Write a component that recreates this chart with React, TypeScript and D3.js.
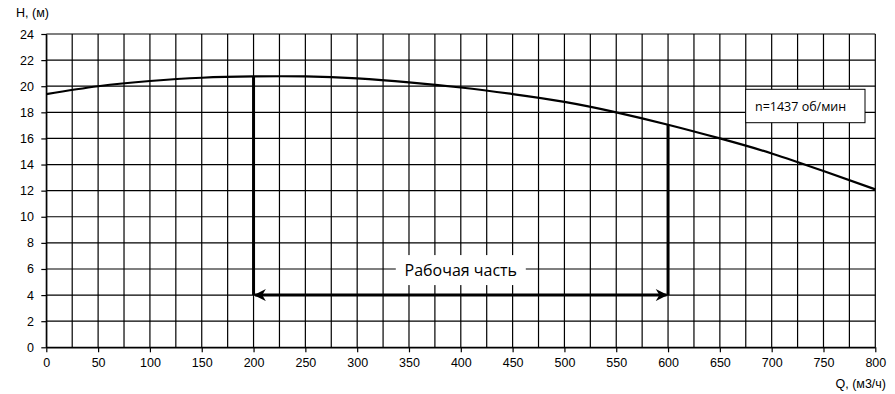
import React, { useEffect, useRef } from 'react';
import * as d3 from 'd3';

const flowQ = [0, 50, 100, 150, 200, 250, 300, 350, 400, 450, 500, 550, 600, 650, 700, 750, 800];
const headH = [19.4, 20.0, 20.4, 20.65, 20.75, 20.75, 20.6, 20.3, 19.9, 19.4, 18.8, 18.0, 17.05, 16.0, 14.85, 13.5, 12.1];
const xTicks = d3.range(0, 801, 50);
const yTicks = d3.range(0, 25, 2);
const workStart = 200;
const workEnd = 600;
const workLevel = 4;
const speedLabel = 'n=1437 об/мин';
const workLabel = 'Рабочая часть';

function App() {
  const svgRef = useRef<SVGSVGElement>(null);

  useEffect(() => {
    const svg = d3.select(svgRef.current);
    svg.selectAll('*').remove();

    const x = d3.scaleLinear().domain([0, 800]).range([46.3, 875.3]);
    const y = d3.scaleLinear().domain([0, 24]).range([347.3, 34]);
    const font = 'Arial, "Liberation Sans", sans-serif';

    // grid
    const grid = svg.append('g').attr('stroke', '#000').attr('stroke-width', 1.2);
    grid.selectAll('.vg')
      .data(d3.range(0, 801, 25))
      .join('line')
      .attr('x1', (d) => x(d)).attr('x2', (d) => x(d))
      .attr('y1', y(0)).attr('y2', y(24));
    grid.selectAll('.hg')
      .data(yTicks)
      .join('line')
      .attr('class', 'hg')
      .attr('x1', x(0)).attr('x2', x(800))
      .attr('y1', (d) => y(d)).attr('y2', (d) => y(d));

    // axes
    const xAxis = d3.axisBottom(x).tickValues(xTicks).tickSize(5).tickSizeOuter(0);
    const yAxis = d3.axisLeft(y).tickValues(yTicks).tickSize(5).tickSizeOuter(0);
    const gx = svg.append('g').attr('transform', `translate(0,${y(0)})`).call(xAxis);
    const gy = svg.append('g').attr('transform', `translate(${x(0)},0)`).call(yAxis);
    [gx, gy].forEach((g) => {
      g.select('.domain').attr('stroke', '#000').attr('stroke-width', 1.2);
      g.selectAll('.tick line').attr('stroke', '#000').attr('stroke-width', 1.2);
      g.selectAll('.tick text').attr('font-family', font).attr('font-size', 12.5).attr('fill', '#000');
    });
    gx.selectAll('.tick text').attr('dy', '0.95em');
    gy.selectAll('.tick text').attr('dx', '-0.35em');

    // curve
    const line = d3.line<number>()
      .x((d, i) => x(flowQ[i]))
      .y((d) => y(d))
      .curve(d3.curveNatural);
    svg.append('path')
      .datum(headH)
      .attr('d', line)
      .attr('fill', 'none')
      .attr('stroke', '#000')
      .attr('stroke-width', 2.2);

    const interp = (q: number) => {
      const i = d3.bisectLeft(flowQ, q);
      if (flowQ[i] === q) return headH[i];
      const t = (q - flowQ[i - 1]) / (flowQ[i] - flowQ[i - 1]);
      return headH[i - 1] + t * (headH[i] - headH[i - 1]);
    };

    // working range
    const work = svg.append('g').attr('stroke', '#000').attr('stroke-width', 3);
    [workStart, workEnd].forEach((q) => {
      work.append('line')
        .attr('x1', x(q)).attr('x2', x(q))
        .attr('y1', y(interp(q))).attr('y2', y(workLevel));
    });

    const defs = svg.append('defs');
    defs.append('marker')
      .attr('id', 'arr')
      .attr('viewBox', '0 0 10 10')
      .attr('refX', 9).attr('refY', 5)
      .attr('markerWidth', 4.5).attr('markerHeight', 4)
      .attr('markerUnits', 'strokeWidth')
      .attr('orient', 'auto-start-reverse')
      .append('path')
      .attr('d', 'M0,0 L10,5 L0,10 L3,5 Z')
      .attr('fill', '#000');

    work.append('line')
      .attr('x1', x(workStart) + 1.5).attr('x2', x(workEnd) - 1.5)
      .attr('y1', y(workLevel)).attr('y2', y(workLevel))
      .attr('marker-start', 'url(#arr)')
      .attr('marker-end', 'url(#arr)');

    const midQ = (workStart + workEnd) / 2;
    svg.append('rect')
      .attr('x', x(midQ) - 65).attr('y', y(workLevel) - 40)
      .attr('width', 130).attr('height', 30)
      .attr('fill', '#fff');
    svg.append('text')
      .attr('x', x(midQ)).attr('y', y(workLevel) - 19)
      .attr('text-anchor', 'middle')
      .attr('font-family', '"Open Sans", sans-serif')
      .attr('font-size', 16)
      .text(workLabel);

    // speed box
    svg.append('rect')
      .attr('x', 745.7).attr('y', 89.3)
      .attr('width', 119.3).attr('height', 33.4)
      .attr('fill', '#fff').attr('stroke', '#000').attr('stroke-width', 1);
    svg.append('text')
      .attr('x', 755).attr('y', 110.5)
      .attr('font-family', '"Open Sans", sans-serif')
      .attr('font-size', 12.5)
      .text(speedLabel);

    // axis titles
    svg.append('text')
      .attr('x', 16).attr('y', 17)
      .attr('font-family', font).attr('font-size', 12.5)
      .text('H, (м)');
    svg.append('text')
      .attr('x', 886).attr('y', 388)
      .attr('text-anchor', 'end')
      .attr('font-family', font).attr('font-size', 12.5)
      .text('Q, (м3/ч)');
  }, []);

  return (
    <svg ref={svgRef} width={895} height={394} style={{ position: 'absolute', left: 0, top: 0, background: '#fff' }} />
  );
}

export default App;
